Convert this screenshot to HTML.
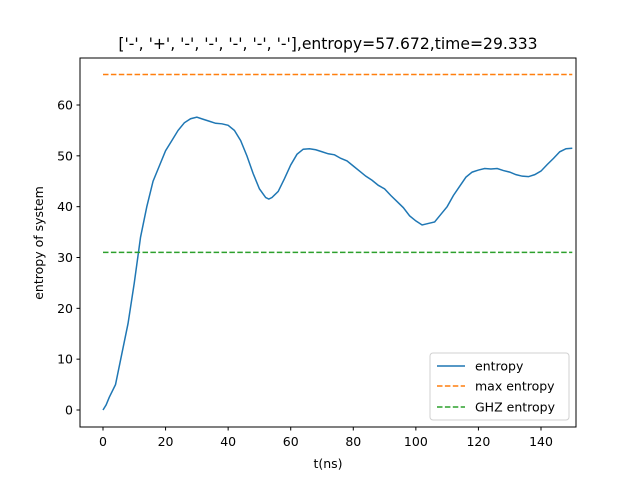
<!DOCTYPE html>
<html><head><meta charset="utf-8"><style>
html,body{margin:0;padding:0;background:#fff;}
svg{display:block;font-family:"DejaVu Sans","Liberation Sans",sans-serif;}
</style></head><body>
<svg id="chart" width="640" height="480" viewBox="0 0 640 480">
<rect x="0" y="0" width="640" height="480" fill="#fff"/>
<text x="328" y="49" font-size="15.6" text-anchor="middle">['-', '+', '-', '-', '-', '-', '-'],entropy=57.672,time=29.333</text>
<g id="ticks"></g>
<g id="series"></g>
<rect x="80" y="58" width="496" height="369" fill="none" stroke="#000" stroke-width="1"/>
<text x="328" y="468" font-size="12.5" text-anchor="middle">t(ns)</text>
<text transform="translate(43,243) rotate(-90)" font-size="12.5" text-anchor="middle">entropy of system</text>
<g>
<rect x="430" y="353" width="139" height="67" rx="3" fill="#fff" stroke="#ccc" opacity="0.9"/>
<g><line x1="437" y1="366" x2="465" y2="366" stroke="#1f77b4" stroke-width="1.5"/><text x="475" y="370.5" font-size="12.5">entropy</text></g>
<g><line x1="437" y1="386" x2="465" y2="386" stroke="#ff7f0e" stroke-width="1.5" stroke-dasharray="5.5,2.4"/><text x="475" y="390.5" font-size="12.5">max entropy</text></g>
<g><line x1="437" y1="407" x2="465" y2="407" stroke="#2ca02c" stroke-width="1.5" stroke-dasharray="5.5,2.4"/><text x="475" y="411.5" font-size="12.5">GHZ entropy</text></g>
</g>
</svg>
<script>
const times=[0,1,2,4,6,8,10,12,14,16,18,20,22,24,26,28,30,32,34,36,38,40,42,44,46,48,50,52,53,54,56,58,60,62,64,66,68,70,72,74,76,78,80,82,84,86,88,90,92,94,96,98,100,102,104,106,108,110,112,114,116,118,120,122,124,126,128,130,132,134,136,138,140,142,144,146,148,150];
const entropy=[0,1,2.5,5,11,17,25,34,40,45,48,51,53,55,56.5,57.3,57.6,57.2,56.8,56.4,56.3,56,55,53,50,46.5,43.5,41.8,41.5,41.8,43,45.5,48.2,50.3,51.3,51.4,51.2,50.8,50.4,50.2,49.5,49,48,47,46,45.2,44.2,43.5,42.2,41,39.8,38.2,37.2,36.4,36.7,37,38.5,40,42.2,44,45.8,46.8,47.2,47.5,47.4,47.5,47.1,46.8,46.3,46,45.9,46.3,47,48.3,49.5,50.8,51.4,51.5];
const maxEntropy=66;
const ghzEntropy=31;
const xTicks=[0,20,40,60,80,100,120,140];
const yTicks=[0,10,20,30,40,50,60];
const X=v=>103+v*(438/140);
const Y=v=>410-v*(305/60);
const NS="http://www.w3.org/2000/svg";
const tg=document.getElementById('ticks'), sg=document.getElementById('series');
function mk(tag,attrs,parent){const e=document.createElementNS(NS,tag);for(const k in attrs)e.setAttribute(k,attrs[k]);parent.appendChild(e);return e;}
xTicks.forEach(t=>{
 const l=mk('line',{x1:X(t),x2:X(t),y1:427,y2:430.5,stroke:'#000'},tg);
 
 
 const tx=mk('text',{x:X(t),y:446,'font-size':12.5,'text-anchor':'middle'},tg);tx.textContent=t;
 
 
});
yTicks.forEach(t=>{
 const l=mk('line',{x1:76.5,x2:80,y1:Y(t),y2:Y(t),stroke:'#000'},tg);
 
 
 const tx=mk('text',{x:73,y:Y(t)+4.5,'font-size':12.5,'text-anchor':'end'},tg);tx.textContent=t;
 
 
});
const p=mk('polyline',{points:times.map((t,i)=>X(t)+','+Y(entropy[i])).join(' '),fill:'none',stroke:'#1f77b4','stroke-width':1.5},sg);


const m=mk('line',{x1:X(times[0]),x2:X(times[times.length-1]),y1:Y(maxEntropy),y2:Y(maxEntropy),stroke:'#ff7f0e','stroke-width':1.5,'stroke-dasharray':'5.5,2.4'},sg);


const g=mk('line',{x1:X(times[0]),x2:X(times[times.length-1]),y1:Y(ghzEntropy),y2:Y(ghzEntropy),stroke:'#2ca02c','stroke-width':1.5,'stroke-dasharray':'5.5,2.4'},sg);


</script>
</body></html>
